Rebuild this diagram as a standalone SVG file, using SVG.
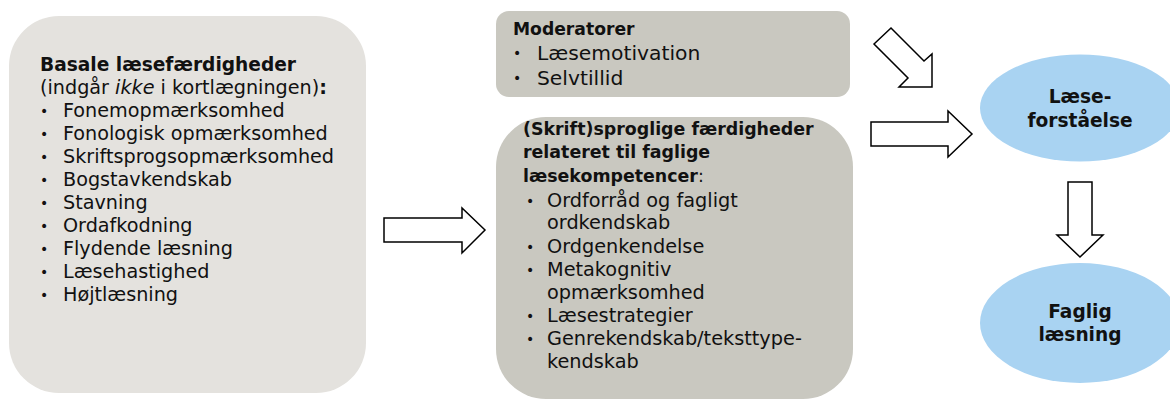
<svg xmlns="http://www.w3.org/2000/svg" width="1170" height="401" viewBox="0 0 1170 401">
<style>
text{font-family:"DejaVu Sans","Liberation Sans",sans-serif;fill:#111}
.b{font-weight:bold}
.lt{font-size:18.6px}
.lb{font-size:19.2px}
.mt{font-size:17.2px}
.mb{font-size:20.3px}
.st{font-size:17.4px}
.sb{font-size:19.3px}
.bu{font-size:14px}
.et{font-size:18.6px;font-weight:bold;text-anchor:middle}
.arr{fill:#fff;stroke:#000;stroke-width:1.5;stroke-linejoin:miter}
</style>
<rect width="1170" height="401" fill="#fff"/>
<g id="basale">
<rect x="9" y="16" width="357" height="377" rx="50" ry="50" fill="#e4e2de"/>
<text class="b lt" x="40" y="71">Basale læsefærdigheder</text>
<text class="lb" x="40" y="94">(indgår <tspan font-style="italic">ikke</tspan> i kortlægningen)<tspan class="b">:</tspan></text>
<g class="lb">
<text class="bu" x="40" y="116">•</text><text x="63" y="117">Fonemopmærksomhed</text>
<text class="bu" x="40" y="139">•</text><text x="63" y="140">Fonologisk opmærksomhed</text>
<text class="bu" x="40" y="162">•</text><text x="63" y="163">Skriftsprogsopmærksomhed</text>
<text class="bu" x="40" y="185">•</text><text x="63" y="186">Bogstavkendskab</text>
<text class="bu" x="40" y="208">•</text><text x="63" y="209">Stavning</text>
<text class="bu" x="40" y="231">•</text><text x="63" y="232">Ordafkodning</text>
<text class="bu" x="40" y="254">•</text><text x="63" y="255">Flydende læsning</text>
<text class="bu" x="40" y="277">•</text><text x="63" y="278">Læsehastighed</text>
<text class="bu" x="40" y="300">•</text><text x="63" y="301">Højtlæsning</text>
</g>
</g>
<g id="moderatorer">
<rect x="496" y="11" width="354" height="86" rx="13" ry="13" fill="#c9c8c0"/>
<text class="b mt" x="513" y="35">Moderatorer</text>
<g class="mb">
<text class="bu" x="513" y="58">•</text><text x="537" y="60">Læsemotivation</text>
<text class="bu" x="513" y="83">•</text><text x="537" y="85">Selvtillid</text>
</g>
</g>
<g id="sproglige">
<rect x="496" y="117" width="357" height="282" rx="50" ry="50" fill="#c9c8c0"/>
<text class="b st" x="523" y="135">(Skrift)sproglige færdigheder</text>
<text class="b st" x="523" y="158">relateret til faglige</text>
<text class="st" x="523" y="182"><tspan class="b">læsekompetencer</tspan>:</text>
<g class="sb">
<text class="bu" x="526" y="206">•</text><text x="547" y="207">Ordforråd og fagligt</text>
<text x="547" y="229">ordkendskab</text>
<text class="bu" x="526" y="252">•</text><text x="547" y="253">Ordgenkendelse</text>
<text class="bu" x="526" y="275">•</text><text x="547" y="276">Metakognitiv</text>
<text x="547" y="299">opmærksomhed</text>
<text class="bu" x="526" y="321">•</text><text x="547" y="322">Læsestrategier</text>
<text class="bu" x="526" y="344">•</text><text x="547" y="345">Genrekendskab/teksttype-</text>
<text x="547" y="368">kendskab</text>
</g>
</g>
<g id="laeseforstaaelse">
<ellipse cx="1080" cy="108" rx="100" ry="53.5" fill="#a9d3f2"/>
<text class="et" x="1080" y="103">Læse-</text>
<text class="et" x="1080" y="127">forståelse</text>
</g>
<g id="faglig">
<ellipse cx="1080" cy="323" rx="100" ry="60" fill="#a9d3f2"/>
<text class="et" x="1080" y="318">Faglig</text>
<text class="et" x="1080" y="341">læsning</text>
</g>
<g id="connectors">
<polygon class="arr" points="384,218 462,218 462,208 485,230 462,253 462,242 384,242"/>
<polygon class="arr" points="871,122 948,122 948,111 972,134 948,157 948,146 871,146"/>
<polygon class="arr" points="874,44 891,28 924,61 932,54 932,87 899,87 908,78"/>
<polygon class="arr" points="1068,182 1092,182 1092,235 1103,235 1080,257 1057,235 1068,235"/>
</g>
</svg>
